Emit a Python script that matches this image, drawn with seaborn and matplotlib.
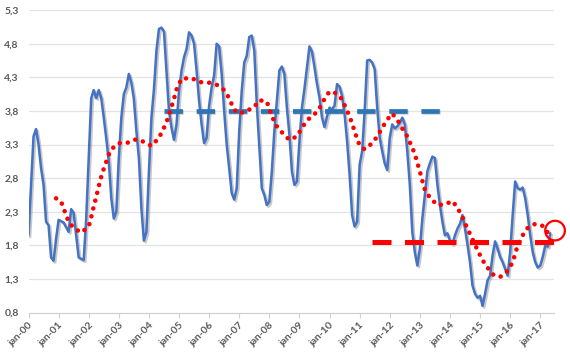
import numpy as np
import pandas as pd
import matplotlib
matplotlib.use("Agg")
import matplotlib.pyplot as plt
import matplotlib.patheffects as pe
import seaborn as sns

# monthly series, jan-00 .. may-17 (month index 0..208)
blue_vals = [
    1.95, 2.70, 3.42, 3.53, 3.30, 2.95, 2.70, 2.15, 2.10, 1.62, 1.57, 1.90,   # 2000
    2.18, 2.16, 2.14, 2.07, 2.00, 2.34, 2.28, 1.95, 1.62, 1.60, 1.58, 2.20,   # 2001
    3.10, 3.99, 4.11, 3.99, 4.11, 3.99, 3.70, 3.39, 3.05, 2.50, 2.20, 2.30,   # 2002
    3.10, 3.70, 4.05, 4.15, 4.35, 4.22, 3.98, 3.50, 3.10, 2.35, 1.87, 2.00,   # 2003
    2.90, 3.70, 4.12, 4.70, 5.02, 5.04, 4.98, 4.40, 3.80, 3.55, 3.37, 3.60,   # 2004
    4.10, 4.40, 4.60, 4.72, 4.97, 4.92, 4.80, 4.40, 3.95, 3.60, 3.32, 3.40,   # 2005
    3.88, 4.15, 4.33, 4.80, 4.76, 4.35, 3.80, 3.30, 2.95, 2.58, 2.48, 2.65,   # 2006
    3.50, 4.10, 4.52, 4.62, 4.90, 4.92, 4.70, 3.90, 3.27, 2.65, 2.55, 2.40,   # 2007
    2.45, 2.90, 3.50, 3.95, 4.40, 4.46, 4.35, 3.85, 3.45, 2.90, 2.70, 2.75,   # 2008
    3.35, 3.85, 4.13, 4.45, 4.76, 4.68, 4.45, 4.20, 4.00, 3.70, 3.56, 3.72,   # 2009
    3.85, 3.82, 3.88, 4.20, 4.16, 4.02, 3.75, 3.35, 2.85, 2.25, 2.08, 2.15,   # 2010
    3.00, 3.20, 3.80, 4.55, 4.56, 4.52, 4.42, 3.85, 3.40, 3.20, 3.02, 2.92,   # 2011
    3.40, 3.60, 3.54, 3.57, 3.62, 3.70, 3.60, 3.20, 2.70, 2.00, 1.70, 1.50,   # 2012
    1.75, 2.20, 2.55, 2.90, 3.02, 3.12, 3.10, 2.70, 2.40, 2.15, 1.95, 1.98,   # 2013
    1.87, 1.82, 1.95, 2.05, 2.12, 2.25, 2.05, 1.81, 1.55, 1.20, 1.08, 1.02,   # 2014
    1.05, 0.90, 1.08, 1.28, 1.35, 1.65, 1.86, 1.75, 1.63, 1.55, 1.45, 1.35,   # 2015
    1.70, 2.25, 2.75, 2.65, 2.63, 2.66, 2.50, 2.25, 1.95, 1.70, 1.55, 1.47,   # 2016
    1.50, 1.63, 1.80, 1.78, 1.98,                                             # 2017
]
blue_months = list(range(len(blue_vals)))

# smoothed (12-month average) line
red_months = [11, 13, 15, 16, 18, 21, 24, 25, 26, 27, 28, 29, 30, 32, 33, 36, 40, 43, 46, 49,
              52, 54, 55, 56, 57, 58, 59, 61, 65, 68, 72, 75, 78, 80, 81, 83, 86, 90, 92, 95,
              97, 99, 102, 104, 107, 109, 111, 114, 116, 118, 120, 123, 125, 128, 130, 131, 132,
              134, 137, 139, 141, 143, 145, 147, 149, 151, 153, 154, 155, 156, 157, 158, 160,
              163, 166, 169, 171, 173, 174, 176, 179, 181, 183, 185, 188, 191, 193, 194, 195,
              197, 199, 202, 205, 207]
red_vals = [2.50, 2.45, 2.25, 2.15, 2.06, 1.99, 2.08, 2.22, 2.38, 2.52, 2.68, 2.82, 2.94, 3.15,
            3.23, 3.32, 3.33, 3.38, 3.34, 3.28, 3.40, 3.55, 3.63, 3.74, 3.86, 3.98, 4.12, 4.28,
            4.29, 4.23, 4.22, 4.19, 4.11, 3.99, 3.90, 3.77, 3.78, 3.86, 3.96, 3.94, 3.72, 3.57,
            3.44, 3.37, 3.42, 3.55, 3.66, 3.75, 3.84, 3.98, 4.09, 4.06, 3.97, 3.72, 3.50, 3.38,
            3.29, 3.23, 3.32, 3.42, 3.55, 3.67, 3.76, 3.67, 3.54, 3.42, 3.25, 3.16, 3.03, 2.90,
            2.76, 2.63, 2.51, 2.40, 2.41, 2.46, 2.36, 2.22, 2.13, 1.97, 1.73, 1.58, 1.47, 1.37,
            1.33, 1.42, 1.55, 1.67, 1.80, 1.95, 2.06, 2.12, 2.09, 1.99]

# level lines
high_months = [54, 166]
high_level = [3.8, 3.8]
low_months = [137, 209.5]
low_level = [1.85, 1.85]

# highlighted last value
mark_month = [209.9]
mark_val = [2.02]

tick_months = list(range(0, 205, 12))
tick_labels = ["jan-%02d" % (i % 100) for i in range(0, 18)]
y_ticks = [0.8, 1.3, 1.8, 2.3, 2.8, 3.3, 3.8, 4.3, 4.8, 5.3]

sns.set_style("white")
plt.rcParams['font.family'] = ['Lato', 'DejaVu Sans']

fig = plt.figure(figsize=(5.7, 3.53), dpi=100)
ax = fig.add_axes([0.05, 0.1144, 0.922, 0.857])

for y in y_ticks[1:]:
    ax.axhline(y, color="#E3E3E3", lw=0.9, zorder=0)

sns.lineplot(x=blue_months, y=blue_vals, ax=ax, color="#4472C4", lw=1.8, zorder=3,
             path_effects=[pe.SimpleLineShadow(offset=(1.2, -1.2), shadow_color="#777777", alpha=0.4),
                           pe.Normal()])

sns.lineplot(x=high_months, y=high_level, ax=ax, color="#2E75B6", lw=3.4, zorder=4,
             linestyle=(0, (3.9, 2.9)), dash_capstyle="butt",
             path_effects=[pe.SimpleLineShadow(offset=(1, -1), shadow_color="#777777", alpha=0.3),
                           pe.Normal()])
sns.lineplot(x=low_months, y=low_level, ax=ax, color="#FF0000", lw=3.6, zorder=4,
             linestyle=(0, (3.8, 2.7)), dash_capstyle="butt")

sns.lineplot(x=red_months, y=red_vals, ax=ax, color="#FF0000", lw=3.3, zorder=5,
             linestyle=(0, (0.01, 1.75)), dash_capstyle="round")

sns.scatterplot(x=mark_month, y=mark_val, ax=ax, s=200, marker="o", zorder=6)
coll = ax.collections[-1]
coll.set_facecolor("none")
coll.set_edgecolor("#FF0000")
coll.set_linewidth(1.6)
coll.set_clip_on(False)

ax.set_xlim(0, 209.5)
ax.set_ylim(0.8, 5.3)
ax.set_yticks(y_ticks)
ax.set_yticklabels([("%.1f" % v).replace(".", ",") for v in y_ticks])
ax.set_xticks(tick_months)
ax.set_xticklabels(tick_labels, rotation=45, ha="right", va="top", rotation_mode="anchor")

for s in ["top", "right", "left"]:
    ax.spines[s].set_visible(False)
ax.spines["bottom"].set_color("#D0D0D0")
ax.spines["bottom"].set_linewidth(0.9)
ax.tick_params(axis="x", length=3.5, width=0.8, color="#D0D0D0", pad=2,
               labelsize=7.5, labelcolor="#595959", bottom=True)
ax.tick_params(axis="y", length=0, pad=7, labelsize=7.5, labelcolor="#595959")
for lab in ax.get_xticklabels() + ax.get_yticklabels():
    lab.set_fontweight("bold")
ax.set_xlabel("")
ax.set_ylabel("")

fig.savefig("out.png", dpi=100)
